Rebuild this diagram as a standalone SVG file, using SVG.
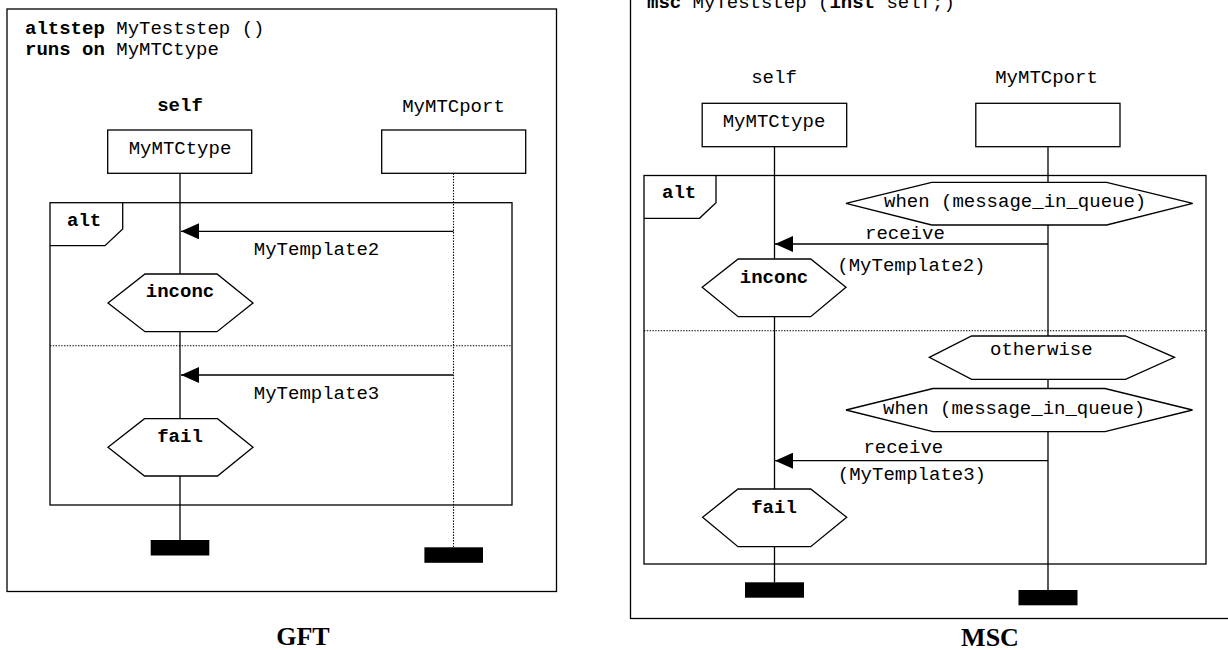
<svg xmlns="http://www.w3.org/2000/svg" width="1228" height="650" viewBox="0 0 1228 650">
<defs>
<style>
.ln{fill:none;stroke:#000;stroke-width:1.3}
.box{fill:#fff;stroke:#000;stroke-width:1.3}
.dot{fill:none;stroke:#000;stroke-width:1.1;stroke-dasharray:1.4 1.4}
.bar{fill:#000;stroke:none}
.t{font-family:"Liberation Mono","Courier New",monospace;font-size:19px;fill:#000}
.b{font-weight:bold}
.cap{font-family:"Liberation Serif","Times New Roman",serif;font-size:26px;font-weight:bold;fill:#000;text-anchor:middle}
</style>
<marker id="ah" viewBox="0 0 18 16" refX="18" refY="8" markerWidth="18" markerHeight="16" markerUnits="userSpaceOnUse" orient="auto">
<path d="M0,0 L18,8 L0,16 Z" fill="#000"/>
</marker>
</defs>
<rect width="1228" height="650" fill="#fff"/>

<!-- ===== GFT panel ===== -->
<g id="gft-frame">
<rect class="ln" x="7" y="9" width="549.5" height="582.5"/>
<text class="t" x="25" y="33.5"><tspan class="b">altstep</tspan> MyTeststep ()</text>
<text class="t" x="25" y="55"><tspan class="b">runs on</tspan> MyMTCtype</text>
</g>
<g id="gft-connectors">
<line class="ln" x1="180" y1="173.3" x2="180" y2="540"/>
<line class="dot" x1="453.5" y1="173.3" x2="453.5" y2="547.3"/>
<line class="ln" x1="453.5" y1="231.3" x2="181" y2="231.3" marker-end="url(#ah)"/>
<line class="ln" x1="453.5" y1="375" x2="181" y2="375" marker-end="url(#ah)"/>
<text class="t" x="253.8" y="255">MyTemplate2</text>
<text class="t" x="253.8" y="399">MyTemplate3</text>
</g>
<g id="gft-self">
<text class="t b" x="180" y="111" text-anchor="middle">self</text>
<rect class="box" x="107.7" y="130" width="144" height="43.3"/>
<text class="t" x="180" y="154.3" text-anchor="middle">MyMTCtype</text>
<rect class="bar" x="150.7" y="540" width="58.6" height="15.5"/>
</g>
<g id="gft-port">
<text class="t" x="453.5" y="111.7" text-anchor="middle">MyMTCport</text>
<rect class="box" x="381.7" y="130" width="144" height="43.3"/>
<rect class="bar" x="424.4" y="547.3" width="58.6" height="15.5"/>
</g>
<g id="gft-alt">
<rect class="ln" x="50" y="202.7" width="462" height="302.3"/>
<polyline class="ln" points="50,245.7 105,245.7 122.7,229 122.7,202.7"/>
<text class="t b" x="67" y="226">alt</text>
<line class="dot" x1="50" y1="345.7" x2="512" y2="345.7"/>
</g>
<g id="gft-inconc">
<polygon class="box" points="108,303 145,274 217,274 253,303 217,331.7 145,331.7"/>
<text class="t b" x="180" y="297.3" text-anchor="middle">inconc</text>
</g>
<g id="gft-fail">
<polygon class="box" points="108,447.3 144.5,418.7 217.5,418.7 253,447.3 217.5,476 144.5,476"/>
<text class="t b" x="180" y="442" text-anchor="middle">fail</text>
</g>
<text class="cap" x="303" y="645">GFT</text>

<!-- ===== MSC panel ===== -->
<g id="msc-frame">
<rect class="ln" x="630.5" y="-20" width="620" height="638.5"/>
<text class="t" x="647" y="7.5"><tspan class="b">msc</tspan> MyTeststep (<tspan class="b">inst</tspan> self;)</text>
</g>
<g id="msc-alt">
<rect class="ln" x="644" y="175.5" width="562" height="388.5"/>
<polyline class="ln" points="644,218.3 699.5,218.3 716,202.7 716,175.5"/>
<text class="t b" x="662" y="198.3">alt</text>
<line class="dot" x1="644" y1="330.7" x2="1206" y2="330.7"/>
</g>
<g id="msc-connectors">
<line class="ln" x1="774.5" y1="146.7" x2="774.5" y2="582.3"/>
<line class="ln" x1="1048" y1="146.7" x2="1048" y2="590"/>
<line class="ln" x1="1048" y1="244" x2="775" y2="244" marker-end="url(#ah)"/>
<line class="ln" x1="1048" y1="460.7" x2="775" y2="460.7" marker-end="url(#ah)"/>
<text class="t" x="865" y="239.3">receive</text>
<text class="t" x="837.3" y="271">(MyTemplate2)</text>
<text class="t" x="863.4" y="453.3">receive</text>
<text class="t" x="837.8" y="480">(MyTemplate3)</text>
</g>
<g id="msc-self">
<text class="t" x="774" y="83.3" text-anchor="middle">self</text>
<rect class="box" x="702.2" y="103.3" width="144.5" height="43.4"/>
<text class="t" x="774" y="126.7" text-anchor="middle">MyMTCtype</text>
<rect class="bar" x="745" y="582.3" width="59" height="15.4"/>
</g>
<g id="msc-port">
<text class="t" x="1046.5" y="83.3" text-anchor="middle">MyMTCport</text>
<rect class="box" x="975.8" y="103.3" width="144.2" height="43.4"/>
<rect class="bar" x="1018.5" y="590" width="59" height="15.3"/>
</g>
<g id="msc-when1">
<polygon class="box" points="846,203.3 931.7,182.3 1106.7,182.3 1192.7,203.3 1106.7,225 931.7,225"/>
<text class="t" x="884" y="207.3">when (message_in_queue)</text>
</g>
<g id="msc-inconc">
<polygon class="box" points="702.2,287.3 738.2,259 810.7,259 846,287.3 810.7,316.7 738.2,316.7"/>
<text class="t b" x="774" y="282.7" text-anchor="middle">inconc</text>
</g>
<g id="msc-otherwise">
<polygon class="box" points="929.3,357.3 971.6,336 1125.5,336 1174.5,357.3 1125.5,379.3 971.6,379.3"/>
<text class="t" x="990" y="355">otherwise</text>
</g>
<g id="msc-when2">
<polygon class="box" points="846,410 933,388.5 1105,388.5 1192.5,410 1105,431.7 933,431.7"/>
<text class="t" x="883" y="414">when (message_in_queue)</text>
</g>
<g id="msc-fail">
<polygon class="box" points="702.6,517.3 738,489 810.7,489 846.7,517.3 810.7,546.7 738,546.7"/>
<text class="t b" x="774" y="513.3" text-anchor="middle">fail</text>
</g>
<text class="cap" x="990" y="646">MSC</text>
</svg>
